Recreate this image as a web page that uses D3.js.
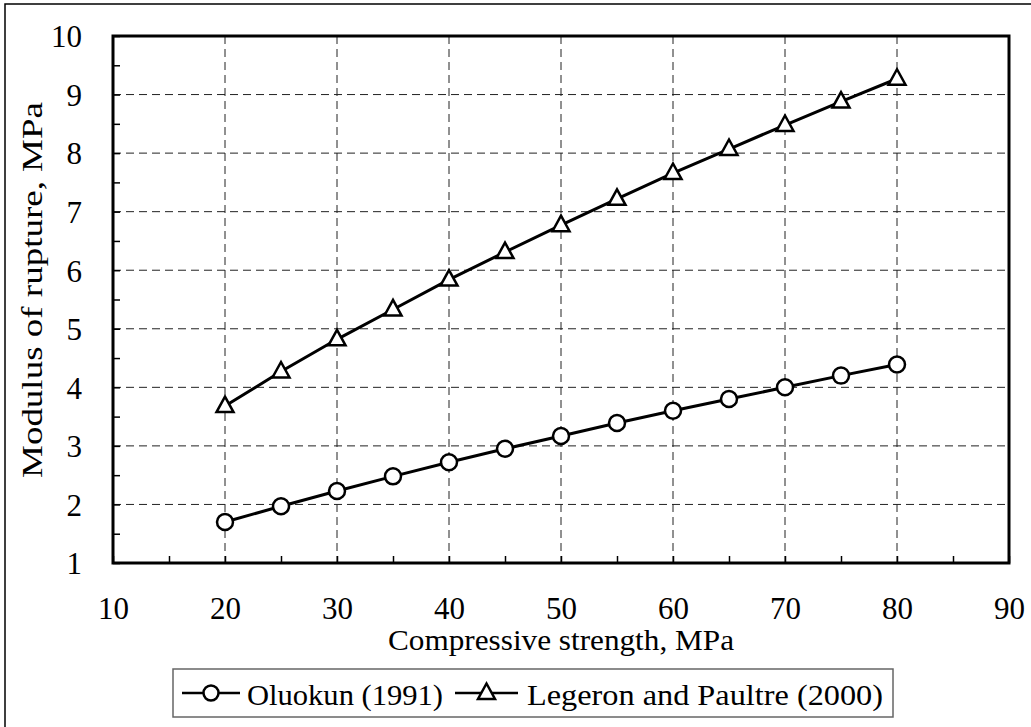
<!DOCTYPE html>
<html>
<head>
<meta charset="utf-8">
<script src="https://cdn.jsdelivr.net/npm/d3@7"></script>
<style>
  html, body { margin: 0; padding: 0; background: #fff; }
  svg { display: block; }
</style>
</head>
<body>
<svg id="chart" width="1031" height="727"></svg>
<script>
const strengths = [20, 25, 30, 35, 40, 45, 50, 55, 60, 65, 70, 75, 80];
const oluokun = [1.70, 1.97, 2.23, 2.48, 2.72, 2.95, 3.17, 3.39, 3.60, 3.80, 4.00, 4.20, 4.39];
const legeron = [3.68, 4.27, 4.82, 5.33, 5.84, 6.31, 6.77, 7.22, 7.66, 8.07, 8.48, 8.88, 9.27];
const xTicks = [10, 20, 30, 40, 50, 60, 70, 80, 90];
const yTicks = [1, 2, 3, 4, 5, 6, 7, 8, 9, 10];
const xMinor = [15, 25, 35, 45, 55, 65, 75, 85];
const yMinor = [1.5, 2.5, 3.5, 4.5, 5.5, 6.5, 7.5, 8.5, 9.5];
const seriesNames = ["Oluokun (1991)", "Legeron and Paultre (2000)"];
const xTitle = "Compressive strength, MPa";
const yTitle = "Modulus of rupture, MPa";

// detect whether a serif face is really installed
function hasFont(name) {
  const c = document.createElement("canvas").getContext("2d");
  const s = "Modulus of rupture 0123456789";
  c.font = "40px monospace"; const w0 = c.measureText(s).width;
  c.font = `40px '${name}', monospace`; const w1 = c.measureText(s).width;
  return Math.abs(w1 - w0) > 0.5;
}
const serifName = ["Liberation Serif", "Times New Roman", "DejaVu Serif", "Tinos", "Nimbus Roman", "FreeSerif", "Noto Serif"].find(hasFont);
const FONT = serifName ? `'${serifName}', serif` : "'Liberation Sans', Arial, sans-serif";
const FS = serifName ? 30 : 27;
const TFS = serifName ? 31 : 28;

const svg = d3.select("#chart");
const L = 113, R = 1009, T = 36, B = 563;
const x = d3.scaleLinear().domain([10, 90]).range([L, R]);
const y = d3.scaleLinear().domain([1, 10]).range([B, T]);

// outer border (right/bottom edges beyond the canvas)
svg.append("rect").attr("x", 5).attr("y", 4).attr("width", 1100).attr("height", 800)
  .attr("fill", "none").attr("stroke", "#000").attr("stroke-width", 1.5);

// gridlines
const grid = svg.append("g").attr("stroke", "#222").attr("stroke-width", 1).attr("stroke-dasharray", "8,5");
grid.selectAll(".gx").data(xTicks.slice(1, -1)).join("line")
  .attr("x1", d => x(d)).attr("x2", d => x(d)).attr("y1", T).attr("y2", B);
grid.selectAll(".gy").data(yTicks.slice(1, -1)).join("line")
  .attr("x1", L).attr("x2", R).attr("y1", d => y(d)).attr("y2", d => y(d));

// axes with inward ticks
const xAxis = d3.axisBottom(x).tickValues(xTicks).tickSizeInner(-7).tickSizeOuter(0).tickPadding(34).tickFormat(d3.format("d"));
const xMinAxis = d3.axisBottom(x).tickValues(xMinor).tickSizeInner(-7).tickSizeOuter(0).tickFormat("");
const yAxis = d3.axisLeft(y).tickValues(yTicks).tickSizeInner(-7).tickSizeOuter(0).tickPadding(31).tickFormat(d3.format("d"));
const yMinAxis = d3.axisLeft(y).tickValues(yMinor).tickSizeInner(-7).tickSizeOuter(0).tickFormat("");

function styleAxis(g) {
  g.attr("font-family", FONT).attr("font-size", TFS);
  g.select(".domain").remove();
  g.selectAll(".tick line").attr("stroke", "#000").attr("stroke-width", 1.5);
  g.selectAll(".tick text").attr("fill", "#000");
}
svg.append("g").attr("transform", `translate(0,${B})`).call(xAxis).call(styleAxis);
svg.append("g").attr("transform", `translate(0,${B})`).call(xMinAxis).call(styleAxis);
svg.append("g").attr("transform", `translate(${L},0)`).call(yAxis).call(styleAxis)
  .selectAll(".tick text").attr("dy", "0.35em");
svg.append("g").attr("transform", `translate(${L},0)`).call(yMinAxis).call(styleAxis);

// frame
svg.append("rect").attr("x", L).attr("y", T).attr("width", R - L).attr("height", B - T)
  .attr("fill", "none").attr("stroke", "#000").attr("stroke-width", 3);

function label(sel, len) {
  return sel.attr("font-family", FONT).attr("font-size", FS).attr("fill", "#000")
    .attr("textLength", len).attr("lengthAdjust", "spacingAndGlyphs");
}

// axis titles
label(svg.append("text").attr("x", (L + R) / 2).attr("y", 650).attr("text-anchor", "middle").text(xTitle), 346);
label(svg.append("text").attr("transform", `translate(42,290) rotate(-90)`).attr("text-anchor", "middle").text(yTitle), 376);

// series
const line = d3.line().x(d => x(d[0])).y(d => y(d[1]));
const triPath = "M0,-9.5L8.5,6L-8.5,6Z";
function drawSeries(vals, kind) {
  const pts = strengths.map((s, i) => [s, vals[i]]);
  svg.append("path").datum(pts).attr("d", line).attr("fill", "none").attr("stroke", "#000").attr("stroke-width", 3);
  const g = svg.append("g");
  if (kind === "circle") {
    g.selectAll("circle").data(pts).join("circle")
      .attr("cx", d => x(d[0])).attr("cy", d => y(d[1])).attr("r", 8)
      .attr("fill", "#fff").attr("stroke", "#000").attr("stroke-width", 2.5);
  } else {
    g.selectAll("path").data(pts).join("path")
      .attr("transform", d => `translate(${x(d[0])},${y(d[1])})`).attr("d", triPath)
      .attr("fill", "#fff").attr("stroke", "#000").attr("stroke-width", 2.5).attr("stroke-linejoin", "miter");
  }
}
drawSeries(oluokun, "circle");
drawSeries(legeron, "triangle");

// legend
const lg = svg.append("g");
lg.append("rect").attr("x", 173).attr("y", 669).attr("width", 720).attr("height", 48)
  .attr("fill", "#fff").attr("stroke", "#666").attr("stroke-width", 1.5);
const ly = 693;
const legendItems = [
  { x1: 182, x2: 240, tx: 247, len: 196, kind: "circle" },
  { x1: 455, x2: 518, tx: 527, len: 356, kind: "triangle" }
];
legendItems.forEach((it, i) => {
  lg.append("line").attr("x1", it.x1).attr("x2", it.x2).attr("y1", ly).attr("y2", ly)
    .attr("stroke", "#000").attr("stroke-width", 2.5);
  const mx = (it.x1 + it.x2) / 2;
  if (it.kind === "circle") {
    lg.append("circle").attr("cx", mx).attr("cy", ly).attr("r", 7.5)
      .attr("fill", "#fff").attr("stroke", "#000").attr("stroke-width", 2.5);
  } else {
    lg.append("path").attr("transform", `translate(${mx},${ly})`).attr("d", triPath)
      .attr("fill", "#fff").attr("stroke", "#000").attr("stroke-width", 2.5);
  }
  label(lg.append("text").attr("x", it.tx).attr("y", 705).text(seriesNames[i]), it.len);
});
</script>
</body>
</html>
